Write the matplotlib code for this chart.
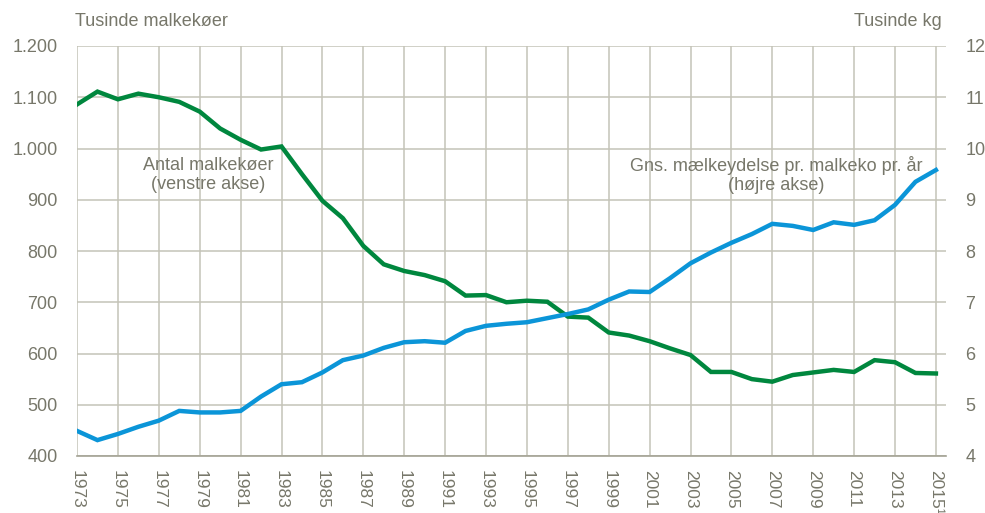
import matplotlib
matplotlib.use("Agg")
import matplotlib.pyplot as plt
import numpy as np

# Data
years = list(range(1973, 2016))

# Antal malkekoer, tusinde (venstre akse)
cows = [1086, 1111, 1096, 1107, 1100, 1091, 1072, 1039, 1017, 998,
        1004, 950, 898, 864, 810, 774, 761, 753, 741, 713,
        714, 700, 703, 701, 672, 670, 641, 635, 624, 610,
        597, 564, 564, 550, 545, 558, 563, 568, 564, 587,
        583, 562, 561]

# Gns. maelkeydelse pr. malkeko pr. aar, tusinde kg (hoejre akse)
milk = [4.49, 4.31, 4.43, 4.57, 4.69, 4.88, 4.85, 4.85, 4.88, 5.16,
        5.40, 5.44, 5.63, 5.87, 5.96, 6.11, 6.22, 6.24, 6.21, 6.44,
        6.54, 6.58, 6.61, 6.69, 6.77, 6.86, 7.05, 7.21, 7.20, 7.47,
        7.76, 7.97, 8.16, 8.33, 8.53, 8.49, 8.41, 8.56, 8.51, 8.60,
        8.90, 9.35, 9.58]

left_ticks = [400, 500, 600, 700, 800, 900, 1000, 1100, 1200]
left_labels = ["400", "500", "600", "700", "800", "900", "1.000", "1.100", "1.200"]
right_ticks = [4, 5, 6, 7, 8, 9, 10, 11, 12]
x_ticks = list(range(1973, 2016, 2))
x_labels = [str(y) for y in x_ticks[:-1]] + ["2015¹"]

green = "#00873e"
blue = "#0b95d8"
text_col = "#77776a"
grid_col = "#c4c3b8"

plt.rcParams["font.family"] = ["Liberation Sans", "DejaVu Sans"]

fig = plt.figure(figsize=(9.85, 5.13), dpi=100)
ax = fig.add_axes([77 / 985, 1 - 456 / 513, (946 - 77) / 985, (456 - 46) / 513])
ax2 = ax.twinx()

ax.set_xlim(1973, 1973 + (946 - 77) / 20.45)
ax.set_ylim(400, 1200)
ax2.set_ylim(4, 12)

ax.set_xticks(x_ticks)
ax.set_xticklabels(x_labels, rotation=270, fontsize=12.5, color=text_col, va="top", ha="center")
ax.set_yticks(left_ticks)
ax.set_yticklabels(left_labels, fontsize=13, color=text_col)
ax2.set_yticks(right_ticks)
ax2.set_yticklabels([str(t) for t in right_ticks], fontsize=13, color=text_col)

ax.grid(True, color=grid_col, linewidth=1.1)
ax.set_axisbelow(True)
for a in (ax, ax2):
    for s in a.spines.values():
        s.set_visible(False)
    a.tick_params(length=0)
ax.spines["bottom"].set_visible(True)
ax.spines["bottom"].set_color("#a3a294")
ax.spines["bottom"].set_linewidth(1.2)
ax.tick_params(axis="y", pad=14)
ax.tick_params(axis="x", pad=10)
ax2.tick_params(axis="y", pad=14)

ax.plot(years, cows, color=green, linewidth=3.2, solid_joinstyle="miter", zorder=3)
ax2.plot(years, milk, color=blue, linewidth=3.2, solid_joinstyle="miter", zorder=3)

ax.text(1979.4, 948, "Antal malkekøer\n(venstre akse)", ha="center", va="center",
        fontsize=13, color=text_col, linespacing=1.2)
ax.text(2007.2, 948, "Gns. mælkeydelse pr. malkeko pr. år\n(højre akse)", ha="center",
        va="center", fontsize=13, color=text_col, linespacing=1.2)

fig.text(75 / 985, 1 - 22 / 513, "Tusinde malkekøer", ha="left", va="center",
         fontsize=13, color=text_col)
fig.text(942 / 985, 1 - 22 / 513, "Tusinde kg", ha="right", va="center",
         fontsize=13, color=text_col)

fig.savefig("out.png", dpi=100)
